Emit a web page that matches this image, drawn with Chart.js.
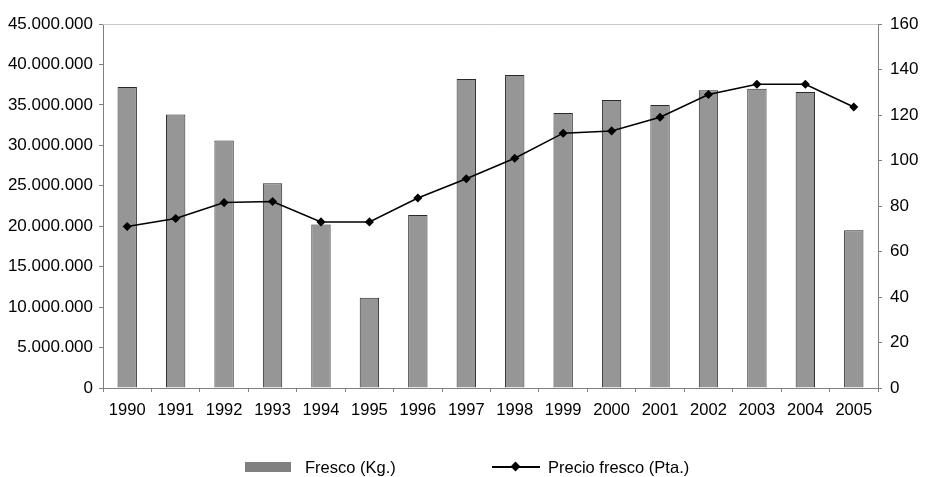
<!DOCTYPE html>
<html>
<head>
<meta charset="utf-8">
<script src="https://cdn.jsdelivr.net/npm/chart.js@4.4.1/dist/chart.umd.min.js"></script>
<style>
  body { margin: 0; background: #fff; font-family: "Liberation Sans", Arial, sans-serif; }
  #wrap { position: relative; width: 926px; height: 477px; }
  .leg { position: absolute; top: 457px; font-size: 16.5px; color: #000; line-height: 20px; }
  .box { position: absolute; width: 46px; height: 10px; background: #808080; top: 5px; }
  .ln { position: absolute; width: 48px; height: 1.5px; background: #000; top: 9px; }
  .dia { position: absolute; width: 7px; height: 7px; background: #000; transform: rotate(45deg); top: 6px; }
</style>
</head>
<body>
<div id="wrap">
  <canvas id="myChart" width="926" height="477"></canvas>
  <div class="leg" style="left:245px"><span class="box" style="left:0"></span><span style="position:absolute;left:60px;white-space:nowrap">Fresco (Kg.)</span></div>
  <div class="leg" style="left:492px"><span class="ln" style="left:0"></span><span class="dia" style="left:20px"></span><span style="position:absolute;left:56px;white-space:nowrap">Precio fresco (Pta.)</span></div>
</div>
<script>
const years = ['1990', '1991', '1992', '1993', '1994', '1995', '1996', '1997',
               '1998', '1999', '2000', '2001', '2002', '2003', '2004', '2005'];
// kilos de fresco
const fresco = [37200000, 33800000, 30600000, 25300000, 20200000, 11150000, 21400000, 38200000,
                38700000, 34000000, 35600000, 35000000, 36800000, 37000000, 36600000, 19500000];
// precio en pesetas
const precio = [71, 74.5, 81.5, 82, 73, 73, 83.5, 92,
                101, 112, 113, 119, 129, 133.5, 133.5, 123.5];

const axisGray = '#808080';

function puntos(v) {
    return String(v).replace(/\B(?=(\d{3})+(?!\d))/g, '.');
}

const topLine = {
    id: 'topLine',
    afterDraw(chart) {
        const a = chart.chartArea;
        const c = chart.ctx;
        c.save();
        c.strokeStyle = '#c8c8c8';
        c.lineWidth = 1;
        c.beginPath();
        c.moveTo(a.left, Math.round(a.top) + 0.5);
        c.lineTo(a.right, Math.round(a.top) + 0.5);
        c.stroke();
        c.restore();
    }
};

Chart.defaults.font.family = '"Liberation Sans", Arial, sans-serif';
Chart.defaults.font.size = 16;
Chart.defaults.color = '#000';

new Chart(document.getElementById('myChart'), {
    type: 'bar',
    data: {
        labels: years,
        datasets: [{
            type: 'line',
            label: 'Precio fresco (Pta.)',
            data: precio,
            yAxisID: 'y1',
            borderColor: '#000',
            borderWidth: 1.5,
            pointStyle: 'rectRot',
            pointRadius: 3.5,
            pointBackgroundColor: '#000',
            pointBorderColor: '#000',
            tension: 0,
            order: 0
        }, {
            label: 'Fresco (Kg.)',
            data: fresco,
            yAxisID: 'y',
            backgroundColor: '#969696',
            borderColor: '#2a2a2a',
            borderWidth: 1,
            categoryPercentage: 1,
            barPercentage: 0.4,
            order: 1
        }]
    },
    options: {
        responsive: false,
        animation: false,
        layout: { padding: { top: 24, left: 0, right: 0, bottom: 0 } },
        plugins: {
            legend: { display: false },
            tooltip: { enabled: false }
        },
        scales: {
            x: {
                grid: { display: true, drawOnChartArea: false, tickLength: 4, color: axisGray },
                border: { color: axisGray },
                ticks: { padding: 9, maxRotation: 0, font: { size: 16.5 } },
                afterFit(s) { s.height = 89; }
            },
            y: {
                position: 'left',
                min: 0,
                max: 45000000,
                grid: { drawOnChartArea: false, tickLength: 4, color: axisGray },
                border: { color: axisGray },
                ticks: { stepSize: 5000000, padding: 6, font: { size: 17 }, callback: v => puntos(v) },
                afterFit(s) { s.width = 103; }
            },
            y1: {
                position: 'right',
                min: 0,
                max: 160,
                grid: { drawOnChartArea: false, tickLength: 4, color: axisGray },
                border: { color: axisGray },
                ticks: { stepSize: 20, padding: 8, font: { size: 17 } },
                afterFit(s) { s.width = 48; }
            }
        }
    },
    plugins: [topLine]
});
</script>
</body>
</html>
